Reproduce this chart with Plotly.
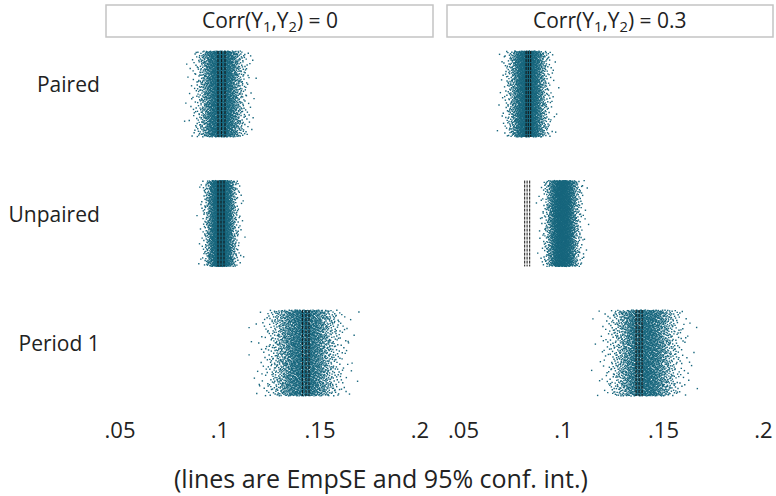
import plotly.graph_objects as go
from statistics import NormalDist

W, H = 776, 496

# Methods (rows) and correlation settings (panels)
methods = ["Paired", "Unpaired", "Period 1"]
panel_titles = ["Corr(Y<sub>1</sub>,Y<sub>2</sub>) = 0", "Corr(Y<sub>1</sub>,Y<sub>2</sub>) = 0.3"]

# Model-based SE across replicates: centre and spread for each method
modse_mean_c0 = [0.1005, 0.1005, 0.1420]
modse_sd_c0 = [0.0053, 0.0035, 0.0080]
modse_mean_c1 = [0.0822, 0.0995, 0.1405]
modse_sd_c1 = [0.0045, 0.0038, 0.0077]

# Empirical SE with its 95% confidence interval
empse_c0 = [0.1008, 0.1005, 0.1430]
empse_lo_c0 = [0.0990, 0.0990, 0.1412]
empse_hi_c0 = [0.1025, 0.1020, 0.1445]
empse_c1 = [0.0824, 0.0818, 0.1378]
empse_lo_c1 = [0.0813, 0.0806, 0.1363]
empse_hi_c1 = [0.0836, 0.0831, 0.1393]

n_reps = 3000

xtick_vals = [0.05, 0.1, 0.15, 0.2]
xtick_text = [".05", ".1", ".15", ".2"]

DOT = "#17667d"
INK = "#222222"
FONT = "Open Sans"

# vertical extent of each strip relative to its row position
STRIP_LO, STRIP_HI = -0.262, 0.401


def halton(i, b):
    f, r = 1.0, 0.0
    while i > 0:
        f /= b
        r += f * (i % b)
        i //= b
    return r


nd = NormalDist()
fig = go.Figure()

panels = [
    ("x", "y", modse_mean_c0, modse_sd_c0, empse_c0, empse_lo_c0, empse_hi_c0),
    ("x2", "y2", modse_mean_c1, modse_sd_c1, empse_c1, empse_lo_c1, empse_hi_c1),
]

k = 0
for xa, ya, means, sds, emp, lo, hi in panels:
    for r, m in enumerate(methods):
        row = r + 1
        xs, ys = [], []
        for j in range(n_reps):
            i = k * n_reps + j + 1
            p = min(max(halton(i, 3), 0.0003), 0.9997)
            xs.append(means[r] + sds[r] * nd.inv_cdf(p))
            ys.append(row + STRIP_LO + (STRIP_HI - STRIP_LO) * halton(i, 2))
        k += 1
        fig.add_trace(go.Scatter(
            x=xs, y=ys, mode="markers", xaxis=xa, yaxis=ya,
            marker=dict(symbol="square", size=1.4, color=DOT, line=dict(width=0)),
            showlegend=False, hoverinfo="skip"))
        for v in (lo[r], emp[r], hi[r]):
            fig.add_trace(go.Scatter(
                x=[v, v], y=[row + STRIP_LO, row + STRIP_HI], mode="lines",
                xaxis=xa, yaxis=ya,
                line=dict(color="#111111", width=1, dash="3px,1px"),
                showlegend=False, hoverinfo="skip"))

common_x = dict(showgrid=False, zeroline=False, showline=False, ticks="outside",
                ticklen=0, tickvals=xtick_vals, ticktext=xtick_text,
                tickfont=dict(family=FONT, size=22, color=INK),
                ticklabelstandoff=6, automargin=False)
y_range = [3.471, 0.691]
y_domain = [1 - 405 / H, 1 - 45 / H]

fig.update_layout(
    width=W, height=H, autosize=False,
    margin=dict(l=0, r=0, t=0, b=0),
    paper_bgcolor="white", plot_bgcolor="white",
    xaxis=dict(domain=[106 / W, 433 / W], range=[0.043, 0.2065], **common_x),
    xaxis2=dict(domain=[447 / W, 773 / W], range=[0.04175, 0.20475], anchor="y2", **common_x),
    yaxis=dict(domain=y_domain, range=y_range, showgrid=False, zeroline=False,
               showline=False, ticks="outside", ticklen=0, tickvals=[1, 2, 3],
               ticktext=methods, ticklabelstandoff=1, automargin=False,
               tickfont=dict(family=FONT, size=21, color=INK)),
    yaxis2=dict(domain=y_domain, range=y_range, showgrid=False, zeroline=False,
                showline=False, showticklabels=False, anchor="x2", matches="y"),
)

# strip headers
for dom, title in (("x domain", panel_titles[0]), ("x2 domain", panel_titles[1])):
    fig.add_shape(type="rect", xref=dom, x0=0, x1=1, yref="paper",
                  y0=1 - 37 / H, y1=1 - 5 / H,
                  line=dict(color="#c4c4c4", width=1.5), fillcolor="white")
    fig.add_annotation(xref=dom, x=0.5, yref="paper", y=1 - 21 / H,
                       text=title, showarrow=False, xanchor="center", yanchor="middle",
                       font=dict(family=FONT, size=21, color=INK))

fig.add_annotation(xref="paper", x=381 / W, yref="paper", y=1 - 478 / H,
                   text="(lines are EmpSE and 95% conf. int.)", showarrow=False,
                   xanchor="center", yanchor="middle",
                   font=dict(family=FONT, size=25, color=INK))

fig.write_html("out.html")
